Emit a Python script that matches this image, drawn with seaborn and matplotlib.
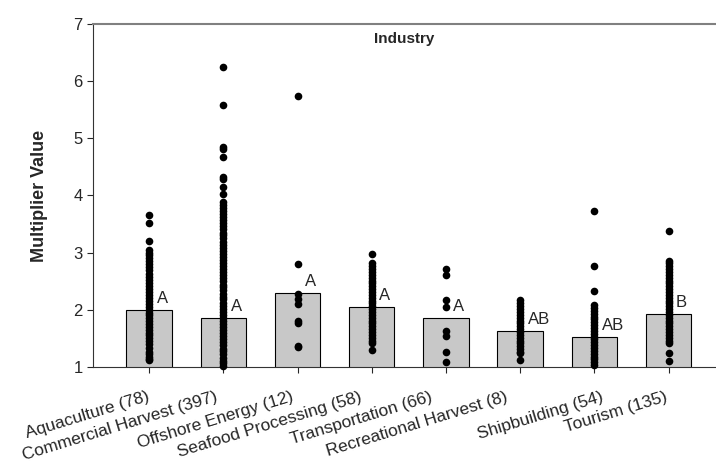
import seaborn as sns
import matplotlib.pyplot as plt
import matplotlib.transforms as mtransforms
import pandas as pd

industries = ['Aquaculture (78)', 'Commercial Harvest (397)', 'Offshore Energy (12)',
              'Seafood Processing (58)', 'Transportation (66)', 'Recreational Harvest (8)',
              'Shipbuilding (54)', 'Tourism (135)']
bar_means = [1.99, 1.85, 2.29, 2.04, 1.85, 1.62, 1.53, 1.92]
letters = ['A', 'A', 'A', 'A', 'A', 'AB', 'AB', 'B']

aquaculture = [3.66, 3.52, 3.20, 3.05, 3.00, 2.95, 2.90, 2.85, 2.80, 2.74, 2.69, 2.63, 2.58,
               2.52, 2.47, 2.42, 2.36, 2.31, 2.26, 2.20, 2.15, 2.10, 2.05, 2.00, 1.95, 1.90,
               1.85, 1.80, 1.75, 1.70, 1.65, 1.60, 1.55, 1.50, 1.45, 1.40, 1.33, 1.26, 1.22,
               1.18, 1.14, 1.12]
commercial = [6.24, 5.58, 4.84, 4.81, 4.68, 4.32, 4.28, 4.15, 4.03, 3.89, 3.84, 3.78, 3.73,
              3.68, 3.62, 3.57, 3.52, 3.46, 3.41, 3.35, 3.30, 3.25, 3.19, 3.14, 3.08, 3.03,
              2.98, 2.92, 2.87, 2.82, 2.76, 2.71, 2.66, 2.60, 2.55, 2.50, 2.44, 2.39, 2.34,
              2.28, 2.23, 2.18, 2.12, 2.07, 2.02, 1.96, 1.91, 1.86, 1.80, 1.75, 1.70, 1.64,
              1.59, 1.54, 1.48, 1.43, 1.38, 1.32, 1.27, 1.22, 1.16, 1.11, 1.06, 1.01]
offshore = [5.74, 2.80, 2.27, 2.18, 2.10, 1.80, 1.77, 1.37, 1.35]
seafood = [2.97, 2.81, 2.76, 2.71, 2.66, 2.61, 2.56, 2.51, 2.46, 2.41, 2.36, 2.31, 2.26,
           2.21, 2.16, 2.11, 2.06, 2.01, 1.96, 1.91, 1.86, 1.81, 1.76, 1.71, 1.66, 1.61,
           1.56, 1.51, 1.46, 1.41, 1.29]
transportation = [2.71, 2.60, 2.17, 2.04, 1.62, 1.54, 1.26, 1.09]
recreational = [2.17, 2.11, 2.06, 2.01, 1.96, 1.91, 1.86, 1.81, 1.76, 1.71, 1.66, 1.61,
                1.56, 1.51, 1.46, 1.41, 1.36, 1.31, 1.26, 1.24, 1.12]
shipbuilding = [3.72, 2.77, 2.33, 2.08, 2.03, 1.98, 1.93, 1.88, 1.83, 1.78, 1.73, 1.68,
                1.63, 1.58, 1.53, 1.48, 1.43, 1.38, 1.33, 1.28, 1.23, 1.18, 1.13, 1.08, 1.03]
tourism = [3.38, 2.85, 2.81, 2.76, 2.71, 2.66, 2.61, 2.56, 2.51, 2.46, 2.41, 2.36, 2.31,
           2.26, 2.21, 2.16, 2.11, 2.06, 2.01, 1.96, 1.91, 1.86, 1.81, 1.76, 1.71, 1.66,
           1.61, 1.56, 1.51, 1.46, 1.41, 1.24, 1.10]

groups = [aquaculture, commercial, offshore, seafood, transportation, recreational,
          shipbuilding, tourism]

bars = pd.DataFrame({'industry': industries, 'mean': bar_means})
points = pd.DataFrame({'industry': [ind for ind, vals in zip(industries, groups) for _ in vals],
                       'value': [v for vals in groups for v in vals]})

sns.set_style('ticks')
plt.rcParams['font.family'] = ['Liberation Sans', 'DejaVu Sans']

fig = plt.figure(figsize=(7.16, 4.71), dpi=100)
ax = fig.add_axes([0.13, 0.221, 0.87, 0.728])

sns.barplot(data=bars, x='industry', y='mean', order=industries, color='#c8c8c8',
            edgecolor='black', linewidth=0.8, width=0.61, ax=ax, zorder=1)
sns.stripplot(data=points, x='industry', y='value', order=industries, jitter=False,
              color='black', size=5.5, ax=ax, zorder=3, clip_on=False)

# significance letters
for i, (m, lab) in enumerate(zip(bar_means, letters)):
    ax.text(i + 0.1, m + 0.07, lab, fontsize=12, ha='left', va='bottom', zorder=4)

ax.text(0.5, 0.955, 'Industry', transform=ax.transAxes, ha='center', va='center',
        fontsize=11, fontweight='bold')

ax.set_ylim(1, 7)
ax.set_xlim(-0.755, 7.64)
ax.set_yticks(range(1, 8))
ax.set_xlabel('')
ax.set_ylabel('Multiplier Value', fontsize=13, fontweight='bold', labelpad=18)
ax.tick_params(axis='y', labelsize=12, length=4, width=0.8, direction='out')
ax.tick_params(axis='x', labelsize=12.5, length=4, width=0.8, direction='out', pad=10)
ax.set_xticks(range(len(industries)))
ax.set_xticklabels(industries, rotation=17, ha='right', rotation_mode='anchor')

# the original labels sit a little off their ticks
label_shift_px = [-2, -8, -7, -13, -16, -15, 6, -4]
for lbl, dx in zip(ax.get_xticklabels(), label_shift_px):
    lbl.set_transform(lbl.get_transform() +
                      mtransforms.ScaledTranslation(dx / 100, -3 / 100, fig.dpi_scale_trans))

ax.spines['right'].set_visible(False)
ax.spines['top'].set_color('#808080')
ax.spines['top'].set_linewidth(1.5)
ax.spines['left'].set_color('#333333')
ax.spines['bottom'].set_color('#333333')

fig.savefig('out.png', dpi=100)
